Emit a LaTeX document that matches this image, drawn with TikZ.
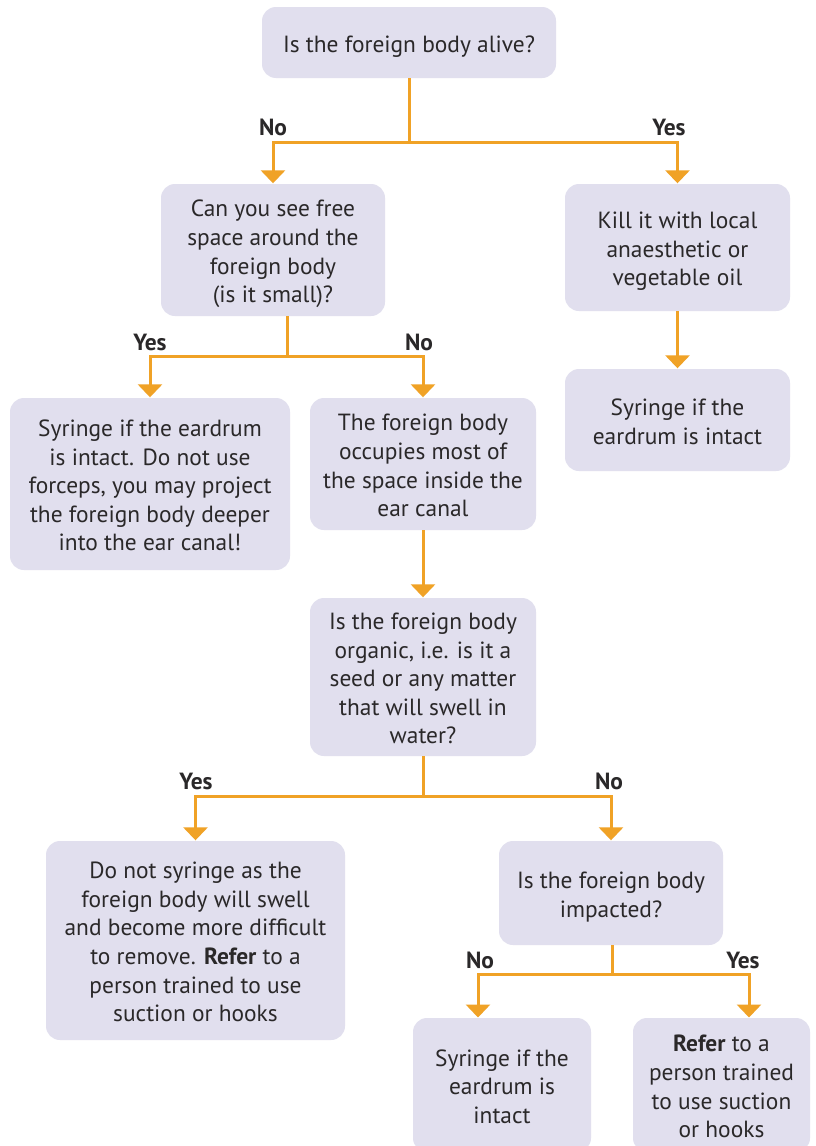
\documentclass[tikz,border=0pt]{standalone}
\usepackage{fontspec}
\setmainfont{PT Sans}
\usetikzlibrary{arrows.meta}
\definecolor{boxfill}{HTML}{E1DFEE}
\definecolor{orangeline}{HTML}{F0A226}
\definecolor{txt}{HTML}{2A2829}
\newcommand{\boxtxt}[1]{\raisebox{-4pt}[\height][\depth]{\begin{tabular}{@{}c@{}}#1\end{tabular}}}
\tikzset{
  box/.style={fill=boxfill, draw=none, rounded corners=14pt, inner sep=0pt, text=txt,
    font=\fontsize{23.4}{28.6}\selectfont},
  lab/.style={text=txt, font=\fontsize{23.4}{26}\selectfont\bfseries, inner sep=0pt},
  conn/.style={draw=orangeline, line width=3pt},
  arr/.style={conn, -{Triangle[width=24pt,length=13pt]}, shorten >=0.5pt},
}
\begin{document}
\begin{tikzpicture}[x=1pt,y=-1pt]
\clip (0,0) rectangle (815,1146);
\fill[white] (0,0) rectangle (815,1146);
% boxes
\node[box, minimum width=294pt, minimum height=71pt] (q1) at (409,42.5) {\boxtxt{Is the foreign body alive?}};
\node[box, minimum width=224pt, minimum height=132pt] (b2) at (273,250) {\boxtxt{Can you see free\\space around the\\foreign body\\(is it small)?}};
\node[box, minimum width=225pt, minimum height=127pt] (b3) at (677.5,247.5) {\boxtxt{Kill it with local\\anaesthetic or\\vegetable oil}};
\node[box, minimum width=225pt, minimum height=102pt] (b4) at (677.5,420) {\boxtxt{Syringe if the\\eardrum is intact}};
\node[box, minimum width=280pt, minimum height=172pt] (b5) at (150,484) {\boxtxt{Syringe if the eardrum\\is intact. Do not use\\forceps, you may project\\the foreign body deeper\\into the ear canal!}};
\node[box, minimum width=226pt, minimum height=132pt] (b6) at (423,464) {\boxtxt{The foreign body\\occupies most of\\the space inside the\\ear canal}};
\node[box, minimum width=226pt, minimum height=158pt] (b7) at (423,677) {\boxtxt{Is the foreign body\\organic, i.e. is it a\\seed or any matter\\that will swell in\\water?}};
\node[box, minimum width=299pt, minimum height=199pt] (b8) at (195.5,940.5) {\boxtxt{Do not syringe as the\\foreign body will swell\\and become more difficult\\to remove. \textbf{Refer} to a\\person trained to use\\suction or hooks}};
\node[box, minimum width=224pt, minimum height=104pt] (b9) at (611,893) {\boxtxt{Is the foreign body\\impacted?}};
\node[box, minimum width=178pt, minimum height=134pt] (b10) at (502,1085) {\boxtxt{Syringe if the\\eardrum is\\intact}};
\node[box, minimum width=177pt, minimum height=134pt] (b11) at (721.5,1085) {\boxtxt{\textbf{Refer} to a\\person trained\\to use suction\\or hooks}};
% junctions
\coordinate (j1) at (409,142);
\coordinate (j2) at (287,356);
\coordinate (j3) at (423,796);
\coordinate (j4) at (612,974);
\coordinate (a10) at (478,1018);
\coordinate (a11) at (749,1018);
% connectors
\draw[conn] (q1.south) -- (j1);
\draw[arr] (j1) -| (b2.north);
\draw[arr] (j1) -| (b3.north);
\draw[arr] (b3.south) -- (b4.north);
\draw[conn] (b2.south -| j2) -- (j2);
\draw[arr] (j2) -| (b5.north);
\draw[arr] (j2) -| (b6.north);
\draw[arr] (b6.south) -- (b7.north);
\draw[conn] (b7.south) -- (j3);
\draw[arr] (j3) -| (b8.north);
\draw[arr] (j3) -| (b9.north);
\draw[conn] (b9.south -| j4) -- (j4);
\draw[arr] (j4) -| (a10);
\draw[arr] (j4) -| (a11);
% labels
\node[lab] (l1) at (273,127) {No};
\node[lab] (l2) at (669,127) {Yes};
\node[lab] (l3) at (150,342) {Yes};
\node[lab] (l4) at (419,342) {No};
\node[lab] (l5) at (196,781) {Yes};
\node[lab] (l6) at (609,781) {No};
\node[lab] (l7) at (480,960) {No};
\node[lab] (l8) at (743,960) {Yes};
\end{tikzpicture}
\end{document}
